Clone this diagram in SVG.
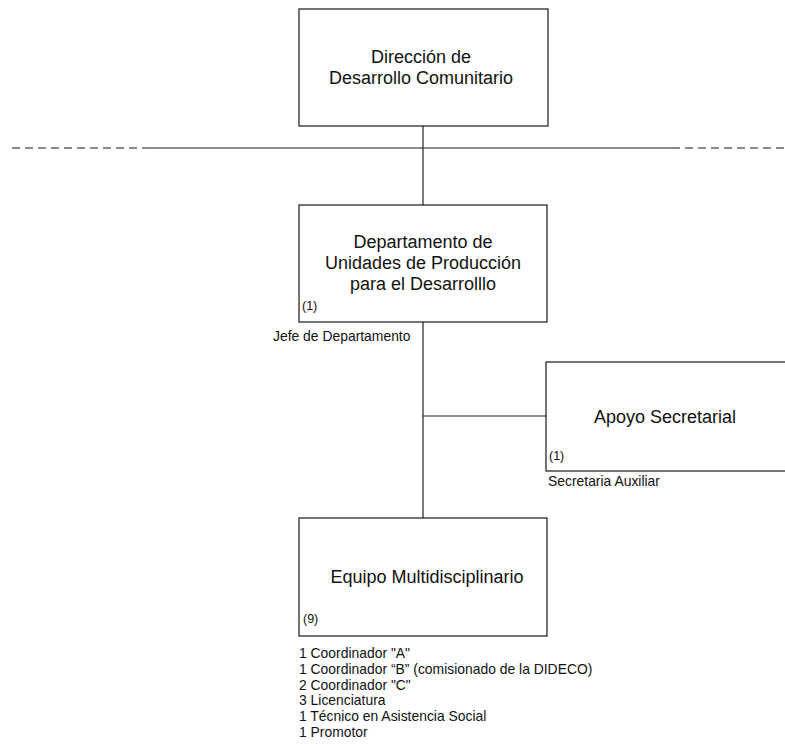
<svg xmlns="http://www.w3.org/2000/svg" width="785" height="744" viewBox="0 0 785 744">
<style>
.box{fill:#fff;stroke:#1a1a1a;stroke-width:1.2}
.t{font-family:"Liberation Sans",Arial,sans-serif;font-size:18px;fill:#111;text-anchor:middle}
.s{font-family:"Liberation Sans",Arial,sans-serif;font-size:13.9px;fill:#111}
.n{font-family:"Liberation Sans",Arial,sans-serif;font-size:12.5px;fill:#111}
.c{stroke:#222;stroke-width:1.2;fill:none}
.h{stroke:#666;stroke-width:1.5;fill:none}
</style>
<rect width="785" height="744" fill="#fff"/>
<g id="connectors">
<line class="h" x1="12" y1="148" x2="145" y2="148" stroke-dasharray="8 5"/>
<line class="h" x1="145" y1="148" x2="672" y2="148"/>
<line class="h" x1="672" y1="148" x2="785" y2="148" stroke-dasharray="8 5"/>
<line class="c" x1="423" y1="126" x2="423" y2="205"/>
<line class="c" x1="423" y1="322" x2="423" y2="518"/>
<line class="c" x1="423" y1="416" x2="546" y2="416"/>
</g>
<g id="direccion">
<rect class="box" x="299" y="9" width="249" height="117"/>
<text class="t" x="421" y="63">Dirección de</text>
<text class="t" x="421" y="84">Desarrollo Comunitario</text>
</g>
<g id="departamento">
<rect class="box" x="299" y="205" width="248" height="117"/>
<text class="t" x="423" y="248">Departamento de</text>
<text class="t" x="423" y="269">Unidades de Producción</text>
<text class="t" x="423" y="290">para el Desarrolllo</text>
<text class="n" x="302" y="310">(1)</text>
<text class="s" x="273" y="341">Jefe de Departamento</text>
</g>
<g id="apoyo">
<rect class="box" x="546" y="362" width="250" height="109"/>
<text class="t" x="665" y="423">Apoyo Secretarial</text>
<text class="n" x="549" y="460">(1)</text>
<text class="s" x="548" y="486">Secretaria Auxiliar</text>
</g>
<g id="equipo">
<rect class="box" x="299" y="518" width="248" height="118"/>
<text class="t" x="427" y="583">Equipo Multidisciplinario</text>
<text class="n" x="303" y="623">(9)</text>
<text class="s" x="299" y="658">1 Coordinador "A"</text>
<text class="s" x="299" y="674">1 Coordinador “B” (comisionado de la DIDECO)</text>
<text class="s" x="299" y="690">2 Coordinador "C"</text>
<text class="s" x="299" y="705">3 Licenciatura</text>
<text class="s" x="299" y="721">1 Técnico en Asistencia Social</text>
<text class="s" x="299" y="737">1 Promotor</text>
</g>
</svg>
